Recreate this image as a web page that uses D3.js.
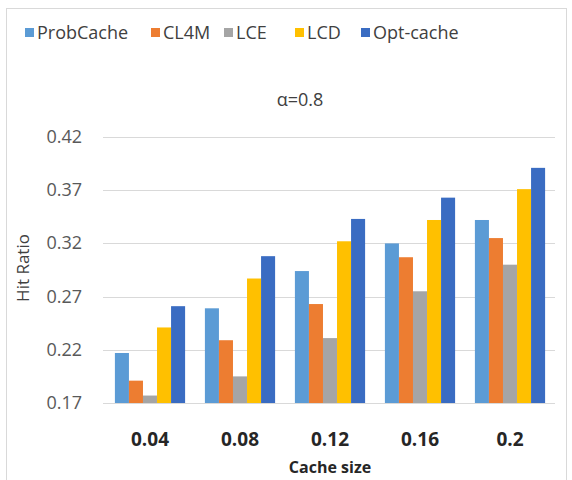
<!DOCTYPE html>
<html>
<head>
<meta charset="utf-8">
<script src="https://cdn.jsdelivr.net/npm/d3@7"></script>
<style>
  body { margin: 0; background: #fff; }
  text { font-family: "Open Sans", "Liberation Sans", sans-serif; }
</style>
</head>
<body>
<div id="chart"></div>
<script>
const width = 572;
const height = 480;
const margin = { top: 137, right: 17, bottom: 77, left: 105 };

// data
const categories = ['0.04', '0.08', '0.12', '0.16', '0.2'];
const seriesNames = ['ProbCache', 'CL4M', 'LCE', 'LCD', 'Opt-cache'];
const probCache = [0.217, 0.259, 0.294, 0.320, 0.342];
const cl4m = [0.191, 0.229, 0.263, 0.307, 0.325];
const lce = [0.177, 0.195, 0.231, 0.275, 0.300];
const lcd = [0.241, 0.287, 0.322, 0.342, 0.371];
const optCache = [0.261, 0.308, 0.343, 0.363, 0.391];
const yTicks = [0.17, 0.22, 0.27, 0.32, 0.37, 0.42];

const colors = ['#5b9bd5', '#ed7d31', '#a5a5a5', '#ffc000', '#3a6cc2'];
const seriesValues = [probCache, cl4m, lce, lcd, optCache];

const rows = categories.map((c, i) => ({
    cat: c,
    values: seriesValues.map((s, j) => ({ key: seriesNames[j], value: s[i], color: colors[j] }))
}));

const svg = d3.select('#chart')
    .append('svg')
    .attr('width', width)
    .attr('height', height);

// outer frame
svg.append('rect')
    .attr('x', 6.5)
    .attr('y', 8.5)
    .attr('width', 560)
    .attr('height', 490)
    .attr('fill', 'none')
    .attr('stroke', '#d9d9d9');

const x = d3.scaleBand()
    .domain(categories)
    .range([margin.left, width - margin.right]);

const xInner = d3.scaleBand()
    .domain(seriesNames)
    .range([0, x.bandwidth() * 0.78]);

const y = d3.scaleLinear()
    .domain([0.17, 0.42])
    .range([height - margin.bottom, margin.top]);

// gridlines
svg.append('g')
    .selectAll('line')
    .data(yTicks)
    .enter()
    .append('line')
    .attr('x1', margin.left - 2)
    .attr('x2', width - margin.right)
    .attr('y1', d => Math.round(y(d)) + 0.5)
    .attr('y2', d => Math.round(y(d)) + 0.5)
    .attr('stroke', '#d9d9d9')
    .attr('stroke-width', 1.2);

// y tick labels
svg.append('g')
    .selectAll('text')
    .data(yTicks)
    .enter()
    .append('text')
    .attr('x', 82)
    .attr('y', d => y(d) + 6)
    .attr('text-anchor', 'end')
    .attr('fill', '#595959')
    .style('font-size', '18px')
    .text(d => d3.format('.2f')(d));

// bars
const groups = svg.append('g')
    .selectAll('g')
    .data(rows)
    .enter()
    .append('g')
    .attr('transform', d => `translate(${x(d.cat) + x.bandwidth() * 0.11},0)`);

groups.selectAll('rect')
    .data(d => d.values)
    .enter()
    .append('rect')
    .attr('x', d => xInner(d.key))
    .attr('width', xInner.bandwidth())
    .attr('y', d => y(d.value))
    .attr('height', d => y(0.17) - y(d.value))
    .attr('fill', d => d.color);

// x tick labels
svg.append('g')
    .selectAll('text')
    .data(categories)
    .enter()
    .append('text')
    .attr('x', d => x(d) + x.bandwidth() / 2)
    .attr('y', 446)
    .attr('text-anchor', 'middle')
    .attr('fill', '#262626')
    .style('font-size', '19px')
    .style('font-weight', 'bold')
    .text(d => d);

// axis titles
svg.append('text')
    .attr('x', 330)
    .attr('y', 473)
    .attr('text-anchor', 'middle')
    .attr('fill', '#262626')
    .style('font-size', '16px')
    .style('font-weight', 'bold')
    .text('Cache size');

svg.append('text')
    .attr('transform', 'translate(29,268) rotate(-90)')
    .attr('text-anchor', 'middle')
    .attr('fill', '#404040')
    .style('font-size', '17px')
    .text('Hit Ratio');

// chart title
svg.append('text')
    .attr('x', 300)
    .attr('y', 106)
    .attr('text-anchor', 'middle')
    .attr('fill', '#404040')
    .style('font-size', '18px')
    .text('α=0.8');

// legend
const legendX = [25, 151, 224, 295, 361];
const legend = svg.append('g')
    .selectAll('g')
    .data(seriesNames)
    .enter()
    .append('g')
    .attr('transform', (d, i) => `translate(${legendX[i]},0)`);

legend.append('rect')
    .attr('x', 0)
    .attr('y', 28)
    .attr('width', 9)
    .attr('height', 9)
    .attr('fill', (d, i) => colors[i]);

legend.append('text')
    .attr('x', 12)
    .attr('y', 39)
    .attr('fill', '#404040')
    .style('font-size', '18px')
    .text(d => d);
</script>
</body>
</html>
